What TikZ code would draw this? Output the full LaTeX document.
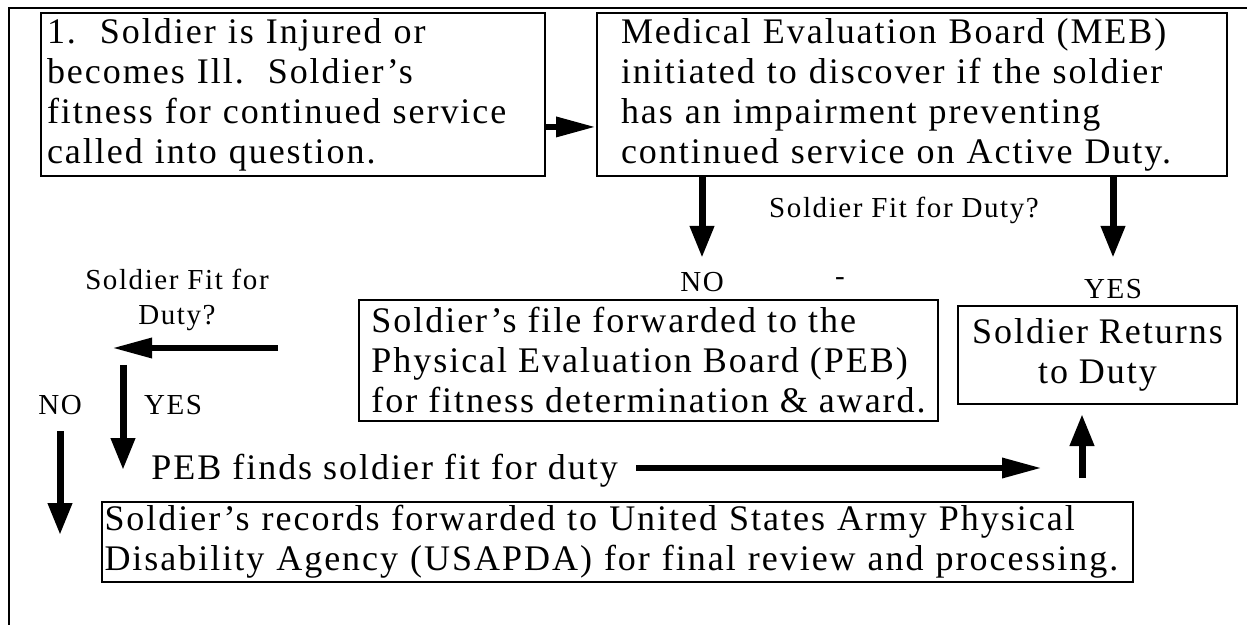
\documentclass[tikz,border=0pt]{standalone}
\usepackage{fontspec}
\setmainfont{Liberation Serif}[LetterSpace=5.5]
\usetikzlibrary{arrows.meta}
\tikzset{
box/.style={draw,line width=1pt,inner sep=0pt,align=left,font=\fontsize{18}{20}\selectfont},
txt/.style={inner sep=0pt,font=\fontsize{18}{20}\selectfont},
lbl/.style={inner sep=0pt,font=\fontsize{14.5}{17.5}\selectfont},
vfat/.style={line width=3.5pt,-{Triangle[length=16pt,width=11.5pt]}},
hfat/.style={line width=3.2pt,-{Triangle[length=20pt,width=9.5pt]}}
}
\begin{document}
\begin{tikzpicture}[x=0.5pt,y=-0.5pt]
\useasboundingbox (0,0) rectangle (1247,625);
\draw[line width=0.8pt] (9,625)--(9,8)--(1247,8);
\node[box,minimum width=252pt,minimum height=81.75pt,text width=246pt] (injured) at (293,94.75)
{1.\ \ Soldier is Injured or\\becomes Ill.\ \ Soldier's\\fitness for continued service\\called into question.};
\node[box,minimum width=315pt,minimum height=81.75pt,text width=291pt] (meb) at (912,94.75)
{Medical Evaluation Board (MEB)\\initiated to discover if the soldier\\has an impairment preventing\\continued service on Active Duty.};
\node[lbl] (fit1) at (904,210) {Soldier Fit for Duty?};
\node[lbl] (no1) at (702,282) {NO};
\node[lbl] (dash) at (840,282) {-};
\node[lbl] (yes1) at (1113,289) {YES};
\node[box,minimum width=289.5pt,minimum height=60.5pt] (file) at (648.5,360.5)
{Soldier's file forwarded to the\\Physical Evaluation Board (PEB)\\for fitness determination \& award.};
\node[box,align=center,minimum width=139.5pt,minimum height=49pt] (returns) at (1097.5,355)
{Soldier Returns\\to Duty};
\node[lbl,align=center] (fit2) at (177,300) {Soldier Fit for\\Duty?};
\node[lbl] (yes2) at (173,405) {YES};
\node[lbl] (no2) at (60,405) {NO};
\node[txt,anchor=base west] (pebfit) at (151,479) {PEB finds soldier fit for duty};
\node[box,minimum width=515.5pt,minimum height=40pt,text width=513pt] (records) at (617.5,542)
{Soldier's records forwarded to United States Army Physical\\Disability Agency (USAPDA) for final review and processing.};
\coordinate (lstart) at (278,348);
\coordinate (lend) at (112,348);
\coordinate (ytop) at (123,365);
\coordinate (ybot) at (123,470);
\coordinate (nobot) at (60,535);
\coordinate (fitend) at (1042,468);
\coordinate (upbot) at (1082,478);
\draw[hfat] ([yshift=-16.1pt]injured.east)--([yshift=-16.1pt]meb.west);
\draw[vfat,shorten >=7pt] (meb.south-|no1)--(no1.north);
\draw[vfat,shorten >=10.5pt] (meb.south-|yes1)--(yes1.north);
\draw[hfat] (lstart)--(lend);
\draw[vfat] (ytop)--(ybot);
\draw[vfat,shorten <=8pt] (no2.south)--(nobot);
\draw[hfat,shorten <=9pt] (pebfit.east|-fitend)--(fitend);
\draw[vfat,shorten >=4.5pt] (upbot)--(upbot|-returns.south);
\end{tikzpicture}
\end{document}
